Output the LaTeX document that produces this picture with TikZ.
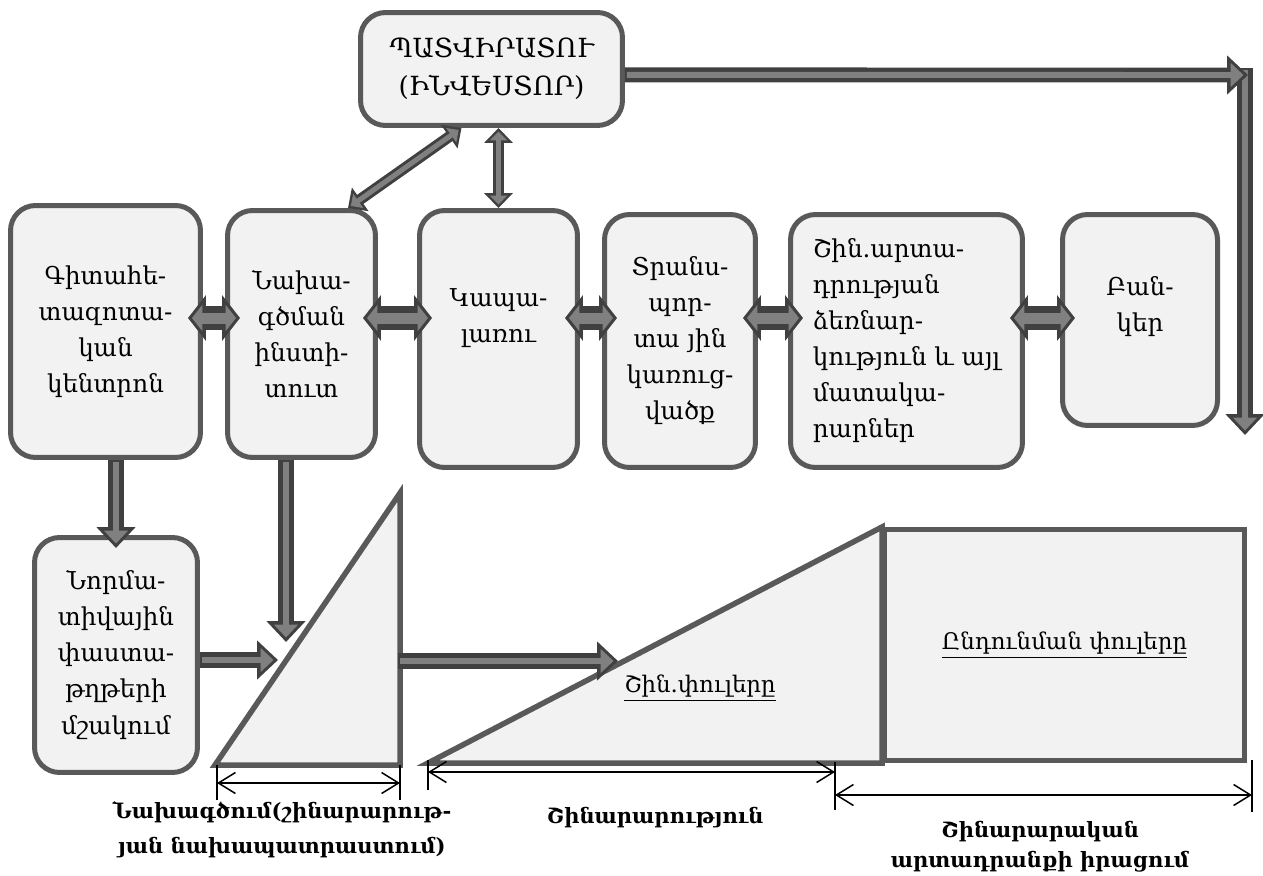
\documentclass[tikz,border=0pt]{standalone}
\usepackage{fontspec}
\setmainfont{DejaVu Serif}
\usetikzlibrary{arrows.meta}
\definecolor{boxfill}{HTML}{F2F2F2}
\definecolor{boxline}{HTML}{595959}
\definecolor{arrdark}{HTML}{404040}
\definecolor{arrmid}{HTML}{808080}
\newcommand{\boxfont}{\fontsize{14}{20.5}\selectfont}
\newcommand{\headfont}{\fontsize{15}{21.5}\selectfont}
\newcommand{\phasefont}{\fontsize{13}{18}\selectfont}
\newcommand{\capfont}{\bfseries\fontsize{12}{20}\selectfont}
\tikzset{
  stage/.style={draw=boxline, fill=boxfill, line width=0.1cm, rounded corners=0.5cm,
    align=center, font=\boxfont, inner sep=0pt},
  boxtxt/.style={align=center, font=\boxfont},
  phase/.style={draw=boxline, fill=boxfill, line width=0.11cm},
  fat/.style={draw=arrdark, line width=0.32cm, -{Triangle[length=0.42cm,width=0.76cm]},
    postaction={draw=arrmid, line width=0.12cm, -{Triangle[length=0.26cm,width=0.47cm]},
      shorten >=0.09cm, shorten <=0.04cm}},
  link/.style={draw=arrdark, line width=0.48cm,
    {Triangle[length=0.36cm,width=0.9cm]}-{Triangle[length=0.36cm,width=0.9cm]},
    shorten <=-0.3cm, shorten >=-0.3cm,
    postaction={draw=arrmid, line width=0.22cm,
      {Triangle[length=0.21cm,width=0.52cm]}-{Triangle[length=0.21cm,width=0.52cm]},
      shorten <=-0.22cm, shorten >=-0.22cm}},
  slim/.style={draw=arrdark, line width=0.22cm,
    {Triangle[length=0.3cm,width=0.56cm]}-{Triangle[length=0.3cm,width=0.56cm]},
    postaction={draw=arrmid, line width=0.1cm,
      {Triangle[length=0.18cm,width=0.34cm]}-{Triangle[length=0.18cm,width=0.34cm]},
      shorten <=0.07cm, shorten >=0.07cm}},
  dim/.style={draw=black, line width=0.03cm,
    {Straight Barb[length=0.34cm,width=0.42cm]}-{Straight Barb[length=0.34cm,width=0.42cm]}},
  tick/.style={draw=black, line width=0.03cm},
  caption/.style={align=center, font=\capfont},
}
\begin{document}
\begin{tikzpicture}[x=0.02cm, y=-0.02cm]
\useasboundingbox (0,0) rectangle (1263,875);
% participants
\node[stage, minimum width=5.24cm, minimum height=2.26cm, font=\headfont] (client) at (491.5,69) {ՊԱՏՎԻՐԱՏՈՒ\\(ԻՆՎԵՍՏՈՐ)};
\node[stage, minimum width=3.8cm, minimum height=5.04cm] (sci) at (105.5,331.5) {Գիտահե-\\տազոտա-\\կան\\կենտրոն};
\node[stage, minimum width=2.96cm, minimum height=4.94cm] (design) at (301.5,334) {Նախա-\\գծման\\ինստի-\\տուտ};
\node[stage, minimum width=3.16cm, minimum height=5.14cm] (cap) at (498.5,339) {};
\node[boxtxt] (captxt) at (498.5,318) {Կապա-\\լառու};
\node[stage, minimum width=3.02cm, minimum height=5.06cm] (trans) at (680,341) {Տրանս-\\պոր-\\տա յին\\կառուց-\\վածք};
\node[stage, minimum width=4.64cm, minimum height=5.06cm, align=left] (prod) at (906.5,341) {Շին.արտա-\\դրության\\ձեռնար-\\կություն և այլ\\մատակա-\\րարներ};
\node[stage, minimum width=3.1cm, minimum height=4.22cm] (bank) at (1140,320) {};
\node[boxtxt] (banktxt) at (1140,307) {Բան-\\կեր};
\node[stage, minimum width=3.26cm, minimum height=4.7cm] (norm) at (116,655) {Նորմա-\\տիվային\\փաստա-\\թղթերի\\մշակում};
% phases
\coordinate (dsgA) at (215,765);
\coordinate (dsgB) at (400,493);
\coordinate (dsgC) at (400,765);
\draw[phase] (dsgA) -- (dsgB) -- (dsgC) -- cycle;
\coordinate (bldA) at (428,763);
\coordinate (bldB) at (882,527);
\coordinate (bldC) at (882,763);
\draw[phase] (bldA) -- (bldB) -- (bldC) -- cycle;
\node[font=\phasefont] (bldtxt) at (700,688) {\underline{Շին.փուլերը}};
\node[phase, minimum width=7.2cm, minimum height=4.62cm, font=\phasefont] (accept) at (1064.5,645) {\underline{Ընդունման փուլերը}};
% flows
\coordinate (row) at (0,318);
\coordinate (turn) at (1248,75);
\coordinate (topdown) at (1245,68);
\coordinate (outend) at (1245,435);
\coordinate (dsgdrop) at (286,642);
\coordinate (dsgin) at (278,660);
\coordinate (dsgout) at (398,661);
\coordinate (bldin) at (618,661);
\draw[fat] (topdown) -- (outend);
\draw[fat, line width=0.3cm] ([yshift=-0.12cm]client.east) -- (turn);
\draw[slim] ([xshift=-0.6cm]design.north east) -- ([xshift=-0.6cm]client.south);
\draw[slim] (cap.north) -- (cap.north |- client.south);
\draw[link] (sci.east |- row) -- (design.west |- row);
\draw[link] (design.east |- row) -- (cap.west |- row);
\draw[link] (cap.east |- row) -- (trans.west |- row);
\draw[link] (trans.east |- row) -- (prod.west |- row);
\draw[link] (prod.east |- row) -- (bank.west |- row);
\draw[fat] (sci.south -| norm.north) -- ([yshift=-0.26cm]norm.north);
\draw[fat] (design.south -| dsgdrop) -- (dsgdrop);
\draw[fat] (norm.east |- dsgin) -- (dsgin);
\draw[fat] (dsgout) -- (bldin);
% time spans
\draw[tick] (217,765) -- (217,800);
\draw[tick] (400,765) -- (400,800);
\coordinate (s1a) at (217,783);
\coordinate (s1b) at (400,783);
\draw[dim] (s1a) -- (s1b);
\draw[tick] (428,760) -- (428,790);
\draw[tick] (835,762) -- (835,810);
\coordinate (s2a) at (428,772);
\coordinate (s2b) at (835,772);
\draw[dim] (s2a) -- (s2b);
\draw[tick] (1252,760) -- (1252,812);
\coordinate (s3a) at (835,795);
\coordinate (s3b) at (1252,795);
\draw[dim] (s3a) -- (s3b);
\node[caption] (dsgcap) at (282,830) {Նախագծում(շինարարութ-\\յան նախապատրաստում)};
\node[caption] (bldcap) at (655,818) {Շինարարություն};
\node[caption, font=\bfseries\fontsize{12}{17}\selectfont] (salecap) at (1040,847) {Շինարարական\\արտադրանքի իրացում};
\end{tikzpicture}
\end{document}
